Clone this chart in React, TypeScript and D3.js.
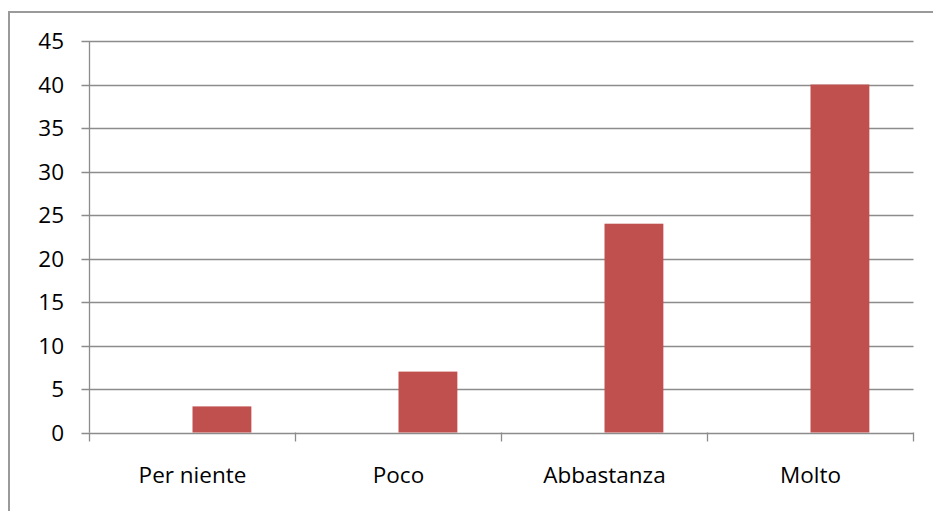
import React, { useEffect, useRef } from "react";
import * as d3 from "d3";

const categories = ["Per niente", "Poco", "Abbastanza", "Molto"];
const hiddenSeries = [0, 0, 0, 0];
const values = [3, 7, 24, 40];
const yTicks = [0, 5, 10, 15, 20, 25, 30, 35, 40, 45];

const W = 933;
const H = 511;
const FONT = "'Open Sans', sans-serif";

export default function App() {
  const ref = useRef<SVGSVGElement | null>(null);

  useEffect(() => {
    const svg = d3.select(ref.current);
    svg.selectAll("*").remove();

    const left = 89.5;
    const right = 913.5;
    const top = 41;
    const bottom = 432.5;

    // outer chart border (extends beyond picture on right/bottom)
    svg
      .append("rect")
      .attr("x", 9)
      .attr("y", 12)
      .attr("width", 960)
      .attr("height", 560)
      .attr("fill", "white")
      .attr("stroke", "#9a9a9a")
      .attr("stroke-width", 2);

    const x = d3.scaleBand<string>().domain(categories).range([left, right]).padding(0);
    const y = d3.scaleLinear().domain([0, 45]).range([bottom, top]);

    const g = svg.append("g");

    // gridlines
    g.selectAll("line.grid")
      .data(yTicks)
      .enter()
      .append("line")
      .attr("x1", left - 8)
      .attr("x2", right)
      .attr("y1", (d) => Math.round(y(d)) + 0.5)
      .attr("y2", (d) => Math.round(y(d)) + 0.5)
      .attr("stroke", "#8c8c8c")
      .attr("stroke-width", 1.3);

    // bars: two series clustered, gap width 150%
    const bw = x.bandwidth() / 3.5;
    const series = [hiddenSeries, values];
    series.forEach((vals, si) => {
      g.selectAll(`rect.s${si}`)
        .data(vals)
        .enter()
        .append("rect")
        .attr("x", (_d, i) => (x(categories[i]) as number) + bw * 0.75 + si * bw)
        .attr("width", bw)
        .attr("y", (d) => y(d))
        .attr("height", (d) => y(0) - y(d))
        .attr("fill", "#C0504D");
    });

    // y axis line
    g.append("line")
      .attr("x1", left)
      .attr("x2", left)
      .attr("y1", top)
      .attr("y2", bottom)
      .attr("stroke", "#8c8c8c")
      .attr("stroke-width", 1.3);

    // x axis ticks at band boundaries
    const bounds = categories.map((c) => x(c) as number).concat([right]);
    g.selectAll("line.xt")
      .data(bounds)
      .enter()
      .append("line")
      .attr("x1", (d) => d)
      .attr("x2", (d) => d)
      .attr("y1", bottom)
      .attr("y2", bottom + 9)
      .attr("stroke", "#8c8c8c")
      .attr("stroke-width", 1.3);

    // y labels
    g.selectAll("text.yl")
      .data(yTicks)
      .enter()
      .append("text")
      .attr("x", 64)
      .attr("y", (d) => y(d))
      .attr("dy", "0.36em")
      .attr("text-anchor", "end")
      .attr("font-family", FONT)
      .attr("font-size", 22.5)
      .attr("fill", "#000")
      .text((d) => String(d));

    // x labels
    g.selectAll("text.xl")
      .data(categories)
      .enter()
      .append("text")
      .attr("x", (d) => (x(d) as number) + x.bandwidth() / 2)
      .attr("y", 483)
      .attr("text-anchor", "middle")
      .attr("font-family", FONT)
      .attr("font-size", 22.5)
      .attr("fill", "#000")
      .text((d) => d);
  }, []);

  return (
    <svg
      ref={ref}
      width={W}
      height={H}
      style={{ position: "absolute", left: 0, top: 0, display: "block", background: "white" }}
    />
  );
}
